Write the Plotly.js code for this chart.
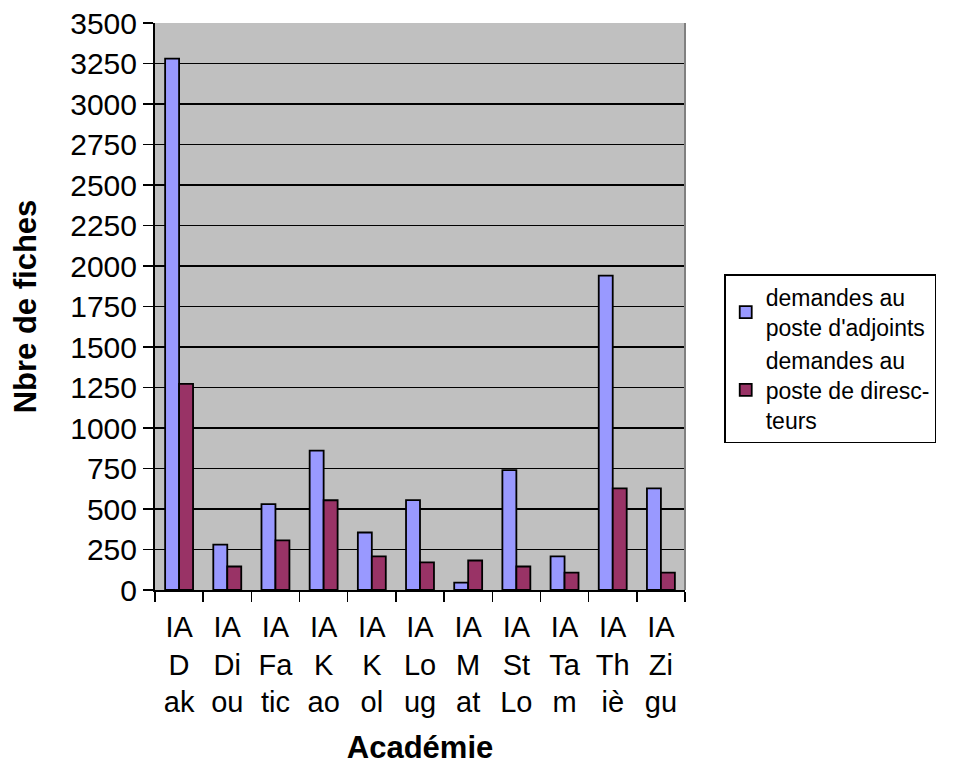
<!DOCTYPE html>
<html>
<head>
<meta charset="utf-8">
<script src="https://cdn.plot.ly/plotly-3.0.1.min.js"></script>
<style>html,body{margin:0;padding:0;background:#fff;}#chart{width:957px;height:765px;}</style>
</head>
<body>
<div id="chart"></div>
<script>
const categories = ["IA Dak","IA Diou","IA Fatic","IA Kao","IA Kol","IA Loug","IA Mat","IA StLo","IA Tam","IA Thiè","IA Zigu"];
const tickLabels = ["IA<br>D<br>ak","IA<br>Di<br>ou","IA<br>Fa<br>tic","IA<br>K<br>ao","IA<br>K<br>ol","IA<br>Lo<br>ug","IA<br>M<br>at","IA<br>St<br>Lo","IA<br>Ta<br>m","IA<br>Th<br>iè","IA<br>Zi<br>gu"];
const adjoints = [3280, 280, 530, 860, 355, 555, 45, 740, 207, 1940, 627];
const directeurs = [1272, 145, 306, 554, 207, 170, 182, 145, 107, 627, 107];
const yTicks = [0,250,500,750,1000,1250,1500,1750,2000,2250,2500,2750,3000,3250,3500];

const font = "Liberation Sans, Arial, sans-serif";
const data = [
  {type:"bar", x:categories, y:adjoints, name:"demandes au<br>poste d'adjoints",
   marker:{color:"#9999FF", line:{color:"#000", width:1.8}}},
  {type:"bar", x:categories, y:directeurs, name:"demandes au<br>poste de diresc-<br>teurs",
   marker:{color:"#993366", line:{color:"#000", width:1.8}}}
];
const layout = {
  width:957, height:765,
  margin:{l:155, r:272, t:23, b:175},
  paper_bgcolor:"#fff", plot_bgcolor:"#C0C0C0",
  font:{family:font, color:"#000"},
  barmode:"group", bargap:0.42, bargroupgap:0,
  showlegend:true,
  legend:{x:1.074, xanchor:"left", y:0.557, yanchor:"top",
    bordercolor:"#000", borderwidth:1.5, bgcolor:"#fff",
    font:{family:font, size:23, color:"#000"}},
  xaxis:{type:"category", tickvals:categories, ticktext:tickLabels,
    tickson:"boundaries", ticks:"outside", ticklen:10, tickwidth:1.5, tickcolor:"#000",
    showline:true, linecolor:"#000", linewidth:2, showgrid:false,
    ticklabelstandoff:10,
    tickfont:{family:font, size:29, color:"#000"},
    title:{text:"<b>Académie</b>", font:{family:font, size:31, color:"#000"}, standoff:22}},
  yaxis:{range:[0,3500], tickvals:yTicks, ticks:"outside", ticklen:10, tickwidth:1.5, tickcolor:"#000",
    showline:true, linecolor:"#000", linewidth:2,
    showgrid:true, gridcolor:"#000", gridwidth:1.5, zeroline:false,
    tickfont:{family:font, size:30, color:"#000"},
    title:{text:"<b>Nbre de fiches</b>", font:{family:font, size:31, color:"#000"}, standoff:24}},
  shapes:[{type:"line", xref:"paper", yref:"paper", x0:1, x1:1, y0:0, y1:1, line:{color:"#808080", width:2}}]
};
Plotly.newPlot("chart", data, layout, {displayModeBar:false, staticPlot:true});
</script>
</body>
</html>
